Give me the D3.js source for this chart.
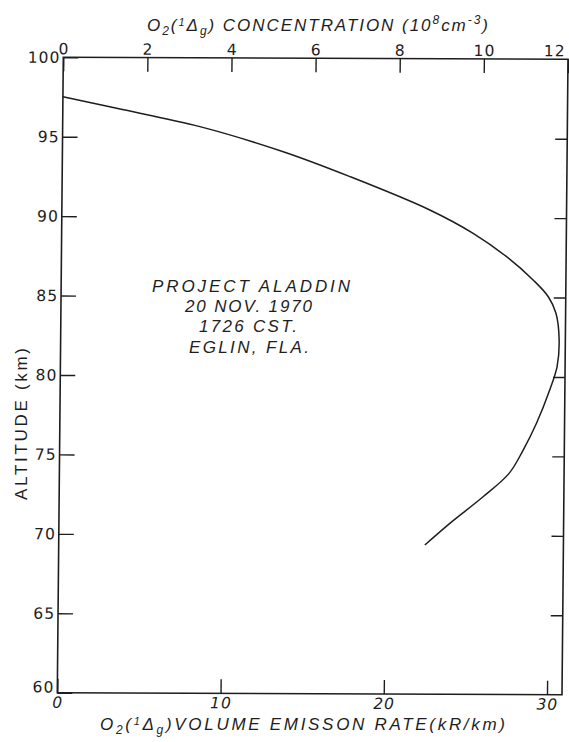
<!DOCTYPE html>
<html>
<head>
<meta charset="utf-8">
<script src="https://cdn.jsdelivr.net/npm/d3@7"></script>
<style>
  body { margin: 0; background: #fff; }
  svg { display: block; }
  text { font-family: "Liberation Sans", Arial, sans-serif; fill: #1e1e1e; }
  .tick line { stroke: #1e1e1e; stroke-width: 1.4; }
  .tick text { font-family: "DejaVu Sans", sans-serif; font-size: 15.5px; letter-spacing: 1px; }
  .frame { fill: none; stroke: #1e1e1e; stroke-width: 1.6; }
  .profile { fill: none; stroke: #1e1e1e; stroke-width: 1.5; }
</style>
</head>
<body>
<svg></svg>
<script>
// DATA
const altitudeKm   = [97.52, 96.80, 95.67, 94.11, 92.56, 90.48, 89.02, 87.56, 86.10, 85.05,
                      84.01, 82.33, 80.65, 79.18, 77.08, 75.39, 73.92, 72.44, 70.76, 69.39];
const emissionRate = [0.0, 3.30, 8.41, 13.53, 17.63, 22.54, 25.21, 27.27, 28.91, 29.85,
                      30.33, 30.54, 30.43, 29.99, 29.20, 28.40, 27.55, 25.97, 23.95, 22.43];
const concentrationTicks = [0, 2, 4, 6, 8, 10, 12];
const rateTicks = [0, 10, 20, 30];
const altitudeTicks = [100, 95, 90, 85, 80, 75, 70, 65, 60];
const annotationLines = ["PROJECT  ALADDIN", "20 NOV. 1970", "1726 CST.", "EGLIN, FLA."];

// GLOBAL DECLARATIONS
const fullWidth = 569;
const fullHeight = 742;
const width = 505;
const height = 635.4;

let svg = d3.select("svg")
  .attr("width", fullWidth)
  .attr("height", fullHeight);

svg.append("rect")
  .attr("width", fullWidth)
  .attr("height", fullHeight)
  .attr("fill", "#fff");

// the scan is slightly tilted, so the plot frame gets a small shear/rotation
let plot = svg.append("g")
  .attr("transform", "matrix(0.9994,0.00396,-0.00944,1,63.3,57.3)");

let xTop = d3.scaleLinear().domain([0, 12]).range([0, width]);
let xRate = d3.scaleLinear().domain([0, 30.92]).range([0, width]);
let yAlt = d3.scaleLinear().domain([60, 100]).range([height, 0]);

// top axis - concentration
let topAxis = plot.append("g")
  .call(d3.axisTop(xTop).tickValues(concentrationTicks).tickSizeInner(-14).tickSizeOuter(0).tickPadding(3));
// last label sits on the page edge in the scan, keep it inside
topAxis.selectAll(".tick").filter(d => d == 12).select("text")
  .attr("text-anchor", "end")
  .attr("x", -3);

// bottom axis - volume emission rate
let bottomAxis = plot.append("g")
  .attr("transform", `translate(0,${height})`)
  .call(d3.axisBottom(xRate).tickValues(rateTicks).tickSizeInner(-14).tickSizeOuter(0).tickPadding(4));
bottomAxis.selectAll("text").style("font-style", "italic");

// left axis - altitude
let leftAxis = plot.append("g")
  .call(d3.axisLeft(yAlt).tickValues(altitudeTicks).tickSizeInner(-15).tickSizeOuter(0).tickPadding(3));
leftAxis.selectAll(".tick").filter(d => d == 60).select("text").attr("dy", "-0.05em");

// right axis - ticks only
let rightAxis = plot.append("g")
  .attr("transform", `translate(${width},0)`)
  .call(d3.axisRight(yAlt).tickValues(altitudeTicks.slice(1, -1)).tickSizeInner(-12).tickSizeOuter(0).tickFormat(""));

plot.selectAll(".domain").remove();

plot.append("rect")
  .attr("class", "frame")
  .attr("width", width)
  .attr("height", height);

// altitude profile
let profile = altitudeKm.map((a, i) => ({alt: a, rate: emissionRate[i]}));

let lineGenerator = d3.line()
  .x(d => xRate(d.rate))
  .y(d => yAlt(d.alt))
  .curve(d3.curveCatmullRom.alpha(0.5));

plot.append("path")
  .datum(profile)
  .attr("class", "profile")
  .attr("d", lineGenerator);

// TITLES
function addPieces(textSel, pieces){
  pieces.forEach(function(p){
    textSel.append("tspan")
      .attr("dy", p.dy || 0)
      .style("font-size", p.size ? p.size + "px" : null)
      .text(p.t);
  });
}

let topTitle = svg.append("text")
  .attr("x", 147)
  .attr("y", 31)
  .attr("textLength", 341)
  .attr("lengthAdjust", "spacing")
  .style("font-size", "17px")
  .style("font-style", "italic");
addPieces(topTitle, [
  {t: "O"}, {t: "2", size: 12, dy: 4}, {t: "(", dy: -4}, {t: "1", size: 11, dy: -5},
  {t: "Δ", dy: 5}, {t: "g", size: 12, dy: 4}, {t: ") CONCENTRATION (10", dy: -4},
  {t: "8", size: 12, dy: -7}, {t: "cm", dy: 7}, {t: "-3", size: 12, dy: -7}, {t: ")", dy: 7}
]);

let bottomTitle = svg.append("text")
  .attr("x", 100)
  .attr("y", 730)
  .attr("textLength", 405)
  .attr("lengthAdjust", "spacing")
  .style("font-size", "17px")
  .style("font-style", "italic");
addPieces(bottomTitle, [
  {t: "O"}, {t: "2", size: 12, dy: 4}, {t: "(", dy: -4}, {t: "1", size: 11, dy: -5},
  {t: "Δ", dy: 5}, {t: "g", size: 12, dy: 4}, {t: ")VOLUME  EMISSON  RATE(kR/km)", dy: -4}
]);

svg.append("text")
  .attr("transform", "translate(27,424) rotate(-90)")
  .attr("text-anchor", "middle")
  .attr("textLength", 152)
  .attr("lengthAdjust", "spacing")
  .style("font-size", "17px")
  .text("ALTITUDE (km)");

// annotation block
let annotationX = [152, 185, 199, 189];
let annotationLen = [198, 127, 98, 120];
svg.selectAll(".annotation")
  .data(annotationLines)
  .enter()
  .append("text")
  .attr("class", "annotation")
  .attr("x", (d, i) => annotationX[i])
  .attr("y", (d, i) => 292 + i * 20.2)
  .attr("textLength", (d, i) => annotationLen[i])
  .attr("lengthAdjust", "spacing")
  .style("font-size", "17px")
  .style("font-style", "italic")
  .text(d => d);
</script>
</body>
</html>
